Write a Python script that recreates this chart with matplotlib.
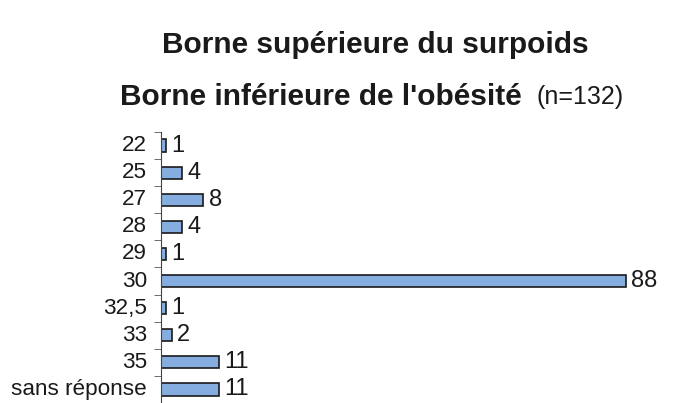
import matplotlib.pyplot as plt
import numpy as np

plt.rcParams['font.family'] = ['Liberation Sans', 'DejaVu Sans']

categories = ['22', '25', '27', '28', '29', '30', '32,5', '33', '35', 'sans réponse']
counts = [1, 4, 8, 4, 1, 88, 1, 2, 11, 11]

W, H = 691, 403
fig = plt.figure(figsize=(W / 100, H / 100), dpi=100)
# axes in pixel terms: left edge at the y axis line, rows from y=132 to y=403
ax = fig.add_axes([161 / W, 1 - 403 / H, 1 - 161 / W, (403 - 132) / H])

y = np.arange(len(categories))
ax.barh(y, counts, height=0.45, color='#85ade0', edgecolor='#1a1a1a', linewidth=1.2)
for yi, c in zip(y, counts):
    ax.text(c + 1.0, yi, str(c), va='center', ha='left', fontsize=17, color='#1a1a1a')

ax.set_xlim(0, 100.4)
ax.set_ylim(len(categories) - 0.5, -0.5)
ax.set_yticks(y)
ax.set_yticklabels(categories, fontsize=16.2, color='#1a1a1a', va='center')
ax.tick_params(axis='y', which='major', length=0, pad=10)
ax.set_yticks(np.arange(-0.5, len(categories), 1), minor=True)
ax.tick_params(axis='y', which='minor', length=5, direction='out', color='#555555')
ax.set_xticks([])
for side in ['top', 'right', 'bottom']:
    ax.spines[side].set_visible(False)
ax.spines['left'].set_color('#444444')

fig.text(375 / W, 1 - 45 / H, 'Borne supérieure du surpoids', ha='center', va='center',
         fontsize=21.5, fontweight='bold', color='#1a1a1a')
fig.text(120 / W, 1 - 97 / H, "Borne inférieure de l'obésité", ha='left', va='center',
         fontsize=21.5, fontweight='bold', color='#1a1a1a')
fig.text(536 / W, 1 - 97 / H, '(n=132)', ha='left', va='center', fontsize=18, color='#1a1a1a')

fig.savefig('out.png', dpi=100)
